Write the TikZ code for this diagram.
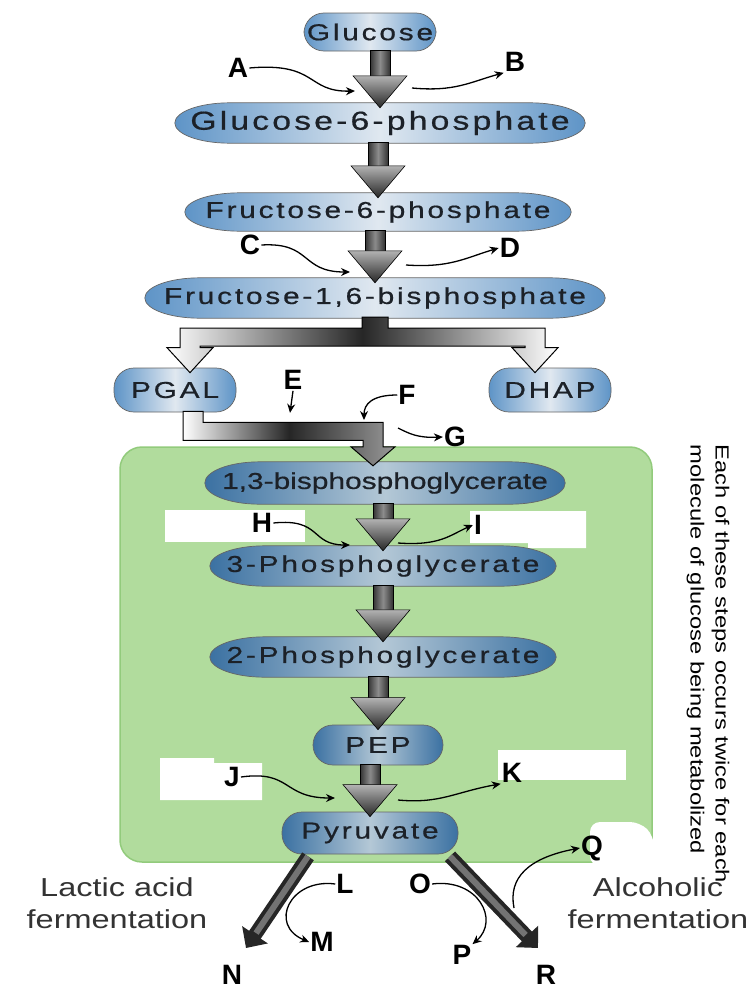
\documentclass[tikz,border=0pt]{standalone}
\usepackage{fontspec}
\setmainfont{Liberation Sans}
\newfontfamily\pillfont[FakeStretch=1.3,LetterSpace=12,FakeBold=0.6]{Liberation Sans}
\newfontfamily\tightpillfont[FakeStretch=1.3,FakeBold=0.6]{Liberation Sans}
\newfontfamily\notefont[FakeStretch=1.25]{Liberation Sans}
\usetikzlibrary{shapes.geometric,arrows.meta,calc}
\definecolor{ink}{HTML}{1C2128}
\definecolor{pillblue}{HTML}{5E94C7}
\definecolor{pilllight}{HTML}{E0E8F0}
\definecolor{pilldeep}{HTML}{3B71A2}
\definecolor{pillmist}{HTML}{B4C8D6}
\definecolor{boxgreen}{HTML}{B1DC9D}
\definecolor{boxedge}{HTML}{92CB7C}

\pgfdeclarelayer{panel}
\pgfdeclarelayer{backdrop}
\pgfsetlayers{panel,backdrop,main}

\tikzset{
  molecule/.style={rectangle,inner sep=0pt,minimum height=40pt,text=ink,
    font=\pillfont\fontsize{23}{23}\selectfont},
  ovalfill/.style={draw=black!60,line width=0.7pt,left color=pillblue,right color=pillblue,middle color=pilllight},
  darkfill/.style={ovalfill,left color=pilldeep,right color=pilldeep,middle color=pillmist},
  capsule/.style={molecule,ovalfill,rounded corners=20pt},
  darkcapsule/.style={molecule,darkfill,rounded corners=20pt},
  letter/.style={font=\bfseries\fontsize{28}{28}\selectfont,text=black,inner sep=1pt},
  note/.style={font=\notefont\fontsize{26}{32}\selectfont,text=black!80,align=center},
  stepshaft/.style={draw=black,line width=0.6pt,left color=black!80,right color=black!80,middle color=black!45},
  stephead/.style={draw=black,line width=0.6pt,top color=black!30,bottom color=black!85},
  hollow/.style={draw=black,line width=1pt},
  sidearrow/.style={-{Stealth[length=9pt,width=8pt]},line width=1.3pt,black},
  fermshaft/.style={black!85,line width=14pt,-{Triangle[width=30pt,length=16pt]}},
}

% oval body with elliptic ends behind a molecule node
\newcommand{\ovalback}[2]{%
  \begin{pgfonlayer}{backdrop}
  \draw[#2] let \p1=(#1.north west), \p2=(#1.south east) in
    (\x1+55pt,\y1) -- (\x2-55pt,\y1)
    arc[start angle=90,end angle=-90,x radius=55pt,y radius=0.5*\y1-0.5*\y2]
    -- (\x1+55pt,\y2)
    arc[start angle=270,end angle=90,x radius=55pt,y radius=0.5*\y1-0.5*\y2] -- cycle;
  \end{pgfonlayer}}

% straight down arrow between two stacked molecules
\newcommand{\stepdown}[2]{%
  \draw[stepshaft] let \p1=(#1.south), \p2=(#2.north) in
    (\x2-10pt,\y1+1pt) rectangle (\x2+10pt,\y2+26pt);
  \draw[stephead] let \p2=(#2.north) in
    (\x2-27pt,\y2+27pt) -- (\x2+27pt,\y2+27pt) -- (\x2,\y2-5pt) -- cycle;}

\begin{document}
\begin{tikzpicture}[x=1pt,y=-1pt]
  \useasboundingbox (0,0) rectangle (754,993);

  \begin{pgfonlayer}{panel}
  \fill[white] (0,0) rectangle (754,993);
  % panel for the steps that run twice
  \fill[boxgreen,draw=boxedge,line width=1.5pt,rounded corners=22pt] (120,447) rectangle (652,862);
  % blanked label areas
  \fill[white] (165,510) rectangle (305,542);
  \fill[white] (470,511) -- (586,511) -- (586,548) -- (528,548) -- (528,543) -- (470,543) -- cycle;
  \fill[white] (160,758) -- (214,758) -- (214,763) -- (262,763) -- (262,800) -- (160,800) -- cycle;
  \fill[white] (498,750) rectangle (626,780);
  \fill[white,rounded corners=10pt] (590,822) -- (640,822) -- (654,836) -- (654,866) -- (590,866) -- cycle;
  \end{pgfonlayer}

  % molecules
  \node[capsule,minimum width=132pt,minimum height=38pt] (glc) at (370,32) {Glucose};
  \node[molecule,minimum width=410pt,font=\pillfont\fontsize{26}{26}\selectfont] (g6p) at (380,123) {Glucose-6-phosphate};
  \node[molecule,minimum width=386pt,minimum height=38pt] (f6p) at (378,212) {Fructose-6-phosphate};
  \node[molecule,minimum width=460pt] (fbp) at (375,298) {Fructose-1,6-bisphosphate};
  \node[capsule,minimum width=122pt,minimum height=44pt] (pgal) at (175,390) {PGAL};
  \node[capsule,minimum width=122pt,minimum height=44pt] (dhap) at (550,390) {DHAP};
  \node[molecule,minimum width=360pt,minimum height=42pt,font=\tightpillfont\fontsize{23}{23}\selectfont] (bpg) at (385,483) {1,3-bisphosphoglycerate};
  \node[molecule,minimum width=346pt] (pga3) at (383,566) {3-Phosphoglycerate};
  \node[molecule,minimum width=346pt] (pga2) at (383,657) {2-Phosphoglycerate};
  \node[darkcapsule,minimum width=130pt] (pep) at (378,745) {PEP};
  \node[darkcapsule,minimum width=176pt,minimum height=42pt] (pyr) at (370,833) {Pyruvate};
  \ovalback{g6p}{ovalfill}
  \ovalback{f6p}{ovalfill}
  \ovalback{fbp}{ovalfill}
  \ovalback{bpg}{darkfill}
  \ovalback{pga3}{darkfill}
  \ovalback{pga2}{darkfill}

  % main flow
  \stepdown{glc}{g6p}
  \stepdown{g6p}{f6p}
  \stepdown{f6p}{fbp}
  \stepdown{bpg}{pga3}
  \stepdown{pga3}{pga2}
  \stepdown{pga2}{pep}
  \stepdown{pep}{pyr}

  % split into the two trioses
  \draw[hollow,left color=white,right color=white,middle color=black!85]
    let \p1=(fbp.south), \p2=(pgal.north), \p3=(dhap.north) in
    (\x1-13pt,\y1+1pt) -- (\x1-13pt,\y1-10pt) -- (\x2+5pt,\y1-10pt) -- (\x2+5pt,\y2+20pt)
    -- (\x2-8pt,\y2+20pt) -- (\x2+15pt,\y2-5pt) -- (\x2+38pt,\y2+20pt) -- (\x2+25pt,\y2+20pt)
    -- (\x2+25pt,\y1-28pt) -- (\x3-25pt,\y1-28pt) -- (\x3-25pt,\y2+20pt) -- (\x3-38pt,\y2+20pt)
    -- (\x3-15pt,\y3-5pt) -- (\x3+8pt,\y3+20pt) -- (\x3-5pt,\y3+20pt) -- (\x3-5pt,\y1-10pt)
    -- (\x1+13pt,\y1-10pt) -- (\x1+13pt,\y1+1pt) -- cycle;

  % PGAL on to 1,3-bisphosphoglycerate
  \draw[hollow,left color=white,right color=black!40,middle color=black!85]
    let \p1=(pgal.south), \p2=(bpg.north) in
    (\x1+8pt,\y1+1pt) -- (\x1+28pt,\y1+1pt) -- (\x1+28pt,\y1-10pt) -- (\x2-2pt,\y1-10pt)
    -- (\x2-2pt,\y2+15pt) -- (\x2+10pt,\y2+15pt) -- (\x2-12pt,\y2-4pt) -- (\x2-34pt,\y2+15pt)
    -- (\x2-22pt,\y2+15pt) -- (\x2-22pt,\y1-28pt) -- (\x1+8pt,\y1-28pt) -- cycle;

  % to the fermentation products
  \coordinate (nTip) at (246,948);
  \coordinate (rTip) at (538,948);
  \draw[fermshaft] ($(pyr.south)+(-62,2)$) -- (nTip);
  \draw[black!55,line width=6pt,shorten >=18pt] ($(pyr.south)+(-62,2)$) -- (nTip);
  \draw[fermshaft] ($(pyr.south)+(80,2)$) -- (rTip);
  \draw[black!55,line width=6pt,shorten >=18pt] ($(pyr.south)+(80,2)$) -- (rTip);

  % letters
  \node[letter] (labA) at (238,68) {A};
  \node[letter] (labB) at (515,62) {B};
  \node[letter] (labC) at (250,245) {C};
  \node[letter] (labD) at (510,248) {D};
  \node[letter] (labE) at (293,380) {E};
  \node[letter] (labF) at (407,395) {F};
  \node[letter] (labG) at (455,437) {G};
  \node[letter] (labH) at (262,523) {H};
  \node[letter] (labI) at (478,525) {I};
  \node[letter] (labJ) at (232,777) {J};
  \node[letter] (labK) at (512,773) {K};
  \node[letter] (labL) at (345,884) {L};
  \node[letter] (labM) at (322,942) {M};
  \node[letter] (labN) at (232,975) {N};
  \node[letter] (labO) at (420,884) {O};
  \node[letter] (labP) at (462,955) {P};
  \node[letter] (labQ) at (592,848) {Q};
  \node[letter] (labR) at (546,975) {R};

  % side reactions
  \draw[sidearrow] (labA.east) .. controls (318,62) and (306,92) .. (355,91);
  \draw[sidearrow] (412,88) .. controls (455,92) and (470,82) .. (labB.south west);
  \draw[sidearrow] (labC.east) .. controls (312,242) and (300,272) .. (350,272);
  \draw[sidearrow] (406,265) .. controls (450,268) and (465,258) .. (labD.west);
  \draw[sidearrow] (labE.south) -- ++(-3,22);
  \draw[sidearrow] (labF.west) .. controls (372,395) and (364,404) .. (364,420);
  \draw[sidearrow] (398,428) .. controls (410,434) and (418,438) .. (labG.west);
  \draw[sidearrow] (labH.east) .. controls (322,518) and (310,545) .. (350,545);
  \draw[sidearrow] (398,543) .. controls (440,546) and (450,535) .. (labI.west);
  \draw[sidearrow] (labJ.east) .. controls (292,770) and (282,798) .. (335,798);
  \draw[sidearrow] (398,800) .. controls (440,804) and (455,792) .. (labK.south west);
  \draw[sidearrow] (labL.west) .. controls (290,878) and (268,925) .. (labM.west);
  \draw[sidearrow] (labO.east) .. controls (478,878) and (500,920) .. (labP.north east);
  \draw[sidearrow] (514,908) .. controls (508,878) and (528,858) .. (labQ.west);

  % fermentation captions
  \node[note] (lactic) at (117,903) {Lactic acid\\fermentation};
  \node[note] (alcohol) at (658,903) {Alcoholic\\fermentation};

  % side remark
  \node[font=\notefont\fontsize{19}{25}\selectfont,rotate=-90,align=left,text=black] (twice) at (708,664)
    {Each of these steps occurs twice for each\\molecule of glucose being metabolized};
\end{tikzpicture}
\end{document}
